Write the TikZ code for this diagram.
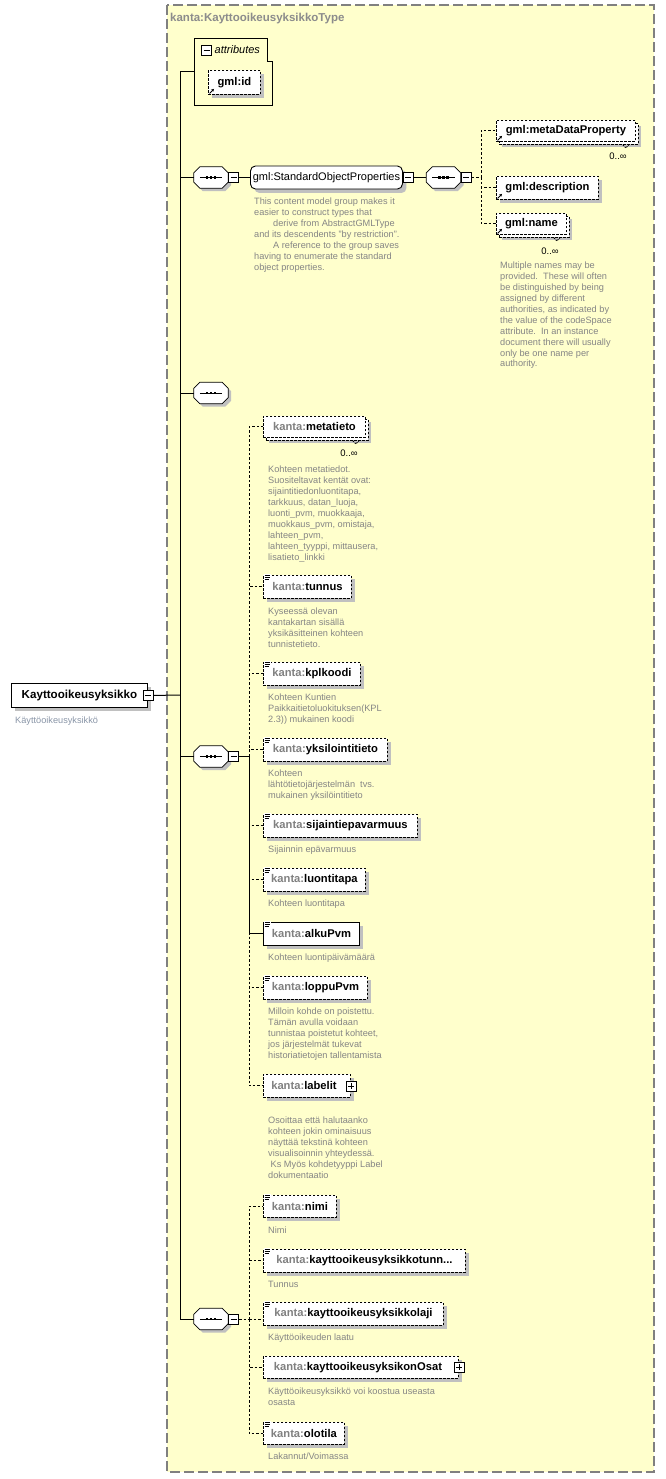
\documentclass[tikz,border=0pt]{standalone}
\usepackage{fontspec}
\setmainfont{Liberation Sans}
\usetikzlibrary{calc,shadows,arrows.meta}
\definecolor{typebg}{HTML}{FFFFCC}
\definecolor{typeline}{HTML}{808080}
\definecolor{shd}{HTML}{C0C0C0}
\definecolor{cmt}{HTML}{858585}
\definecolor{pfx}{HTML}{808080}
\definecolor{maincmt}{HTML}{8A96A8}
\definecolor{titlecol}{HTML}{8C8C8C}
\newcommand\kpfx[1]{{\color{pfx}#1}}
\tikzset{
  conn/.style={line width=1pt},
  dconn/.style={line width=1pt, dash pattern=on 2.5pt off 2pt},
  elbase/.style={rectangle, fill=white, line width=0.9pt, inner sep=0pt, anchor=north west,
    minimum height=23pt, font=\fontsize{11.2}{13}\selectfont\bfseries},
  reqel/.style={elbase, draw, drop shadow={shadow xshift=4pt,shadow yshift=-4pt,opacity=1,fill=shd}},
  optel/.style={elbase, draw, dash pattern=on 2.5pt off 1.5pt,
    drop shadow={shadow xshift=4pt,shadow yshift=-4pt,opacity=1,fill=shd}},
  multel/.style={elbase, draw, dash pattern=on 2.5pt off 1.5pt, minimum height=21pt,
    drop shadow={shadow xshift=6pt,shadow yshift=-6pt,opacity=1,fill=shd},
    preaction={draw, fill=white, line width=0.9pt, dash pattern=on 2.5pt off 1.5pt,
      transform canvas={shift={(3pt,-3pt)}}}},
  seqnode/.style={rectangle, draw=none, inner sep=0pt, minimum width=34pt, minimum height=21pt},
  minusbox/.style={rectangle, draw, fill=white, line width=0.8pt, minimum size=10pt, inner sep=0pt,
    path picture={\draw[line width=0.8pt] ([xshift=2pt]path picture bounding box.west) -- ([xshift=-2pt]path picture bounding box.east);}},
  plusbox/.style={minusbox,
    path picture={\draw[line width=0.8pt] ([xshift=2pt]path picture bounding box.west) -- ([xshift=-2pt]path picture bounding box.east)
      ([yshift=-2pt]path picture bounding box.north) -- ([yshift=2pt]path picture bounding box.south);}},
  cmtnode/.style={anchor=north west, inner sep=0pt, align=left, text=cmt,
    font=\fontsize{9.2}{10.9}\selectfont},
  occ/.style={inner sep=0pt, font=\fontsize{9.5}{11}\selectfont},
  notch/.style={line width=0.8pt, dash pattern=on 1.5pt off 1pt},
  eqicon/.pic={
    \fill[white] (0.5,-0.8) rectangle (7.8,5);
    \draw[line width=0.7pt] (1.5,0) -- (7,0) (1.5,2) -- (7,2) (1.5,4) -- (6,4);
  },
}
\newcommand\drawseq[1]{%
  \draw[fill=white, line width=0.8pt, drop shadow={shadow xshift=3pt,shadow yshift=-3pt,opacity=1,fill=shd}]
    ($(#1.north west)+(6,0)$) -- ($(#1.north east)+(-6,0)$) -- ($(#1.north east)+(0,6)$) --
    ($(#1.south east)+(0,-6)$) -- ($(#1.south east)+(-6,0)$) -- ($(#1.south west)+(6,0)$) --
    ($(#1.south west)+(0,-6)$) -- ($(#1.north west)+(0,6)$) -- cycle;
  \draw[line width=0.8pt] ($(#1.west)+(6,0)$) -- ($(#1.east)+(-6,0)$);
  \foreach \sdx in {-4,0,4} {\fill ($(#1.center)+(\sdx,0)+(-1.2,-1.2)$) rectangle ++(2.4,2.4);}
}
\newcommand\refarrow[1]{%
  \draw[line width=0.9pt, -{Stealth[length=2.8pt,width=3pt]}] ($(#1.south west)+(1.5,-1.5)$) -- ++(4.5,-4.5);}
% notch under a stacked element: #1 node, #2 x offset from its east side
\newcommand\drawnotch[2]{%
  \draw[notch] ($(#1.south east)+(#2-3,3)$) -- ++(3,3) -- ++(3,-3);}
\begin{document}
\begin{tikzpicture}[x=1pt,y=-1pt]
\useasboundingbox (0,0) rectangle (665,1479);
\fill[white] (0,0) rectangle (665,1479);
% complex type box
\draw[typeline, line width=1.2pt, dash pattern=on 10pt off 4pt, fill=typebg] (167,5) rectangle (654,1472);
\node[anchor=west, inner sep=0pt, text=titlecol, font=\fontsize{11.5}{13}\selectfont\bfseries] (title) at (170,18.5) {kanta:KayttooikeusyksikkoType};

% main element
\node[reqel, minimum width=136pt, minimum height=24pt, font=\fontsize{11.6}{13}\selectfont\bfseries] (kay) at (11,683) {Kayttooikeusyksikko};
\node[minusbox] (kaym) at (kay.east) {};
\node[cmtnode, text=maincmt] (kaycmt) at (15,717) {Käyttöoikeusyksikkö};

% attributes
\node[rectangle, draw=none, inner sep=0pt, minimum width=78pt, minimum height=67pt, anchor=north west] (attr) at (194,38.5) {};
\draw[line width=0.9pt] (attr.north west) -- ($(attr.north east)+(-5,0)$) -- ($(attr.north east)+(-5,22.5)$)
  -- ($(attr.north east)+(0,22.5)$) -- (attr.south east) -- (attr.south west) -- cycle;
\node[minusbox] (attrm) at (206.5,50.5) {};
\node[anchor=west, inner sep=0pt, font=\fontsize{11}{13}\selectfont\itshape] (attrlbl) at (214.5,50) {attributes};
\node[optel, minimum width=52pt, minimum height=24pt] (gid) at (208,70) {gml:id};
\refarrow{gid}

% sequence 1 + group
\node[seqnode] (seq1) at (211,177.5) {};
\drawseq{seq1}
\node[minusbox, anchor=west] (m1) at (seq1.east) {};
\node[reqel, rounded corners=5pt, anchor=west, minimum width=152pt, font=\fontsize{11}{13}\selectfont] (sop) at (250,177.5) {gml:StandardObjectProperties};
\node[minusbox, anchor=west] (m2) at (sop.east) {};
\node[seqnode] (seq2) at (443.5,177.5) {};
\drawseq{seq2}
\node[minusbox, anchor=west] (m3) at (seq2.east) {};
\coordinate (j2) at (481,177.5);
\node[cmtnode] (sopcmt) at (254,198) {This content model group makes it\\
easier to construct types that\\
\hspace*{19pt}derive from AbstractGMLType\\
and its descendents "by restriction".\\
\hspace*{19pt}A reference to the group saves\\
having to enumerate the standard\\
object properties.};

\node[multel, minimum width=139pt] (mdp) at (496,120) {gml:metaDataProperty};
\refarrow{mdp}
\drawnotch{mdp}{-10}
\node[occ] (mdpocc) at (618,156) {0..∞};
\node[optel, minimum width=102pt] (desc) at (496,176) {gml:description};
\refarrow{desc}
\node[multel, minimum width=70pt] (gname) at (496,213) {gml:name};
\refarrow{gname}
\drawnotch{gname}{-10}
\node[occ] (gnameocc) at (550,251) {0..∞};
\node[cmtnode] (gnamecmt) at (500,262) {Multiple names may be\\
provided.\ \ These will often\\
be distinguished by being\\
assigned by different\\
authorities, as indicated by\\
the value of the codeSpace\\
attribute.\ \ In an instance\\
document there will usually\\
only be one name per\\
authority.};

% sequence 3 (empty)
\node[seqnode] (seq3) at (211,393) {};
\drawseq{seq3}

% sequence 4
\node[seqnode] (seq4) at (211,756.5) {};
\drawseq{seq4}
\node[minusbox, anchor=west] (m4) at (seq4.east) {};
\coordinate (j4) at (249,756.5);

\node[multel, minimum width=102pt] (meta) at (263,416) {\kpfx{kanta:}metatieto};
\drawnotch{meta}{-10}
\node[occ] (metaocc) at (349,453) {0..∞};
\node[cmtnode] (metacmt) at (268,466) {Kohteen metatiedot.\\
Suositeltavat kentät ovat:\\
sijaintitiedonluontitapa,\\
tarkkuus, datan\_luoja,\\
luonti\_pvm, muokkaaja,\\
muokkaus\_pvm, omistaja,\\
lahteen\_pvm,\\
lahteen\_tyyppi, mittausera,\\
lisatieto\_linkki};

\node[optel, minimum width=88pt] (tunnus) at (263,575) {\kpfx{kanta:}tunnus};
\pic at (tunnus.north west) {eqicon};
\node[cmtnode] (tunnuscmt) at (268,608) {Kyseessä olevan\\
kantakartan sisällä\\
yksikäsitteinen kohteen\\
tunnistetieto.};

\node[optel, minimum width=97pt] (kpl) at (263,662) {\kpfx{kanta:}kplkoodi};
\pic at (kpl.north west) {eqicon};
\node[cmtnode] (kplcmt) at (268,694) {Kohteen Kuntien\\
Paikkaitietoluokituksen(KPL\\
2.3)) mukainen koodi};

\node[optel, minimum width=124pt] (yks) at (263,738) {\kpfx{kanta:}yksilointitieto};
\pic at (yks.north west) {eqicon};
\node[cmtnode] (ykscmt) at (268,770) {Kohteen\\
lähtötietojärjestelmän\ \ tvs.\\
mukainen yksilöintitieto};

\node[optel, minimum width=154pt] (sij) at (263,814) {\kpfx{kanta:}sijaintiepavarmuus};
\pic at (sij.north west) {eqicon};
\node[cmtnode] (sijcmt) at (268,846) {Sijainnin epävarmuus};

\node[optel, minimum width=102pt] (luo) at (263,868) {\kpfx{kanta:}luontitapa};
\pic at (luo.north west) {eqicon};
\node[cmtnode] (luocmt) at (268,900) {Kohteen luontitapa};

\node[reqel, minimum width=96pt] (alku) at (263,922) {\kpfx{kanta:}alkuPvm};
\pic at (alku.north west) {eqicon};
\node[cmtnode] (alkucmt) at (268,954) {Kohteen luontipäivämäärä};

\node[optel, minimum width=104pt] (loppu) at (263,976) {\kpfx{kanta:}loppuPvm};
\pic at (loppu.north west) {eqicon};
\node[cmtnode] (loppucmt) at (268,1008) {Milloin kohde on poistettu.\\
Tämän avulla voidaan\\
tunnistaa poistetut kohteet,\\
jos järjestelmät tukevat\\
historiatietojen tallentamista};

\node[optel, minimum width=87pt] (lab) at (263,1074) {\kpfx{kanta:}labelit\hspace*{6pt}};
\node[plusbox] (labp) at (lab.east) {};
\node[cmtnode] (labcmt) at (268,1117) {Osoittaa että halutaanko\\
kohteen jokin ominaisuus\\
näyttää tekstinä kohteen\\
visualisoinnin yhteydessä.\\
\hspace*{2.5pt}Ks Myös kohdetyyppi Label\\
dokumentaatio};

% sequence 5
\node[seqnode] (seq5) at (211,1319) {};
\drawseq{seq5}
\node[minusbox, anchor=west] (m5) at (seq5.east) {};
\coordinate (j5) at (249,1319);

\node[optel, minimum width=73pt, minimum height=22pt] (nimi) at (263,1195) {\kpfx{kanta:}nimi};
\pic at (nimi.north west) {eqicon};
\node[cmtnode] (nimicmt) at (268,1227) {Nimi};

\node[optel, minimum width=202pt] (ktun) at (263,1249) {\kpfx{kanta:}kayttooikeusyksikkotunn...};
\pic at (ktun.north west) {eqicon};
\node[cmtnode] (ktuncmt) at (268,1281) {Tunnus};

\node[optel, minimum width=180pt] (laji) at (263,1302) {\kpfx{kanta:}kayttooikeusyksikkolaji};
\pic at (laji.north west) {eqicon};
\node[cmtnode] (lajicmt) at (268,1334) {Käyttöoikeuden laatu};

\node[optel, minimum width=195pt, minimum height=22pt] (osat) at (263,1356) {\kpfx{kanta:}kayttooikeusyksikonOsat\hspace*{6pt}};
\node[plusbox] (osatp) at (osat.east) {};
\node[cmtnode] (osatcmt) at (268,1388) {Käyttöoikeusyksikkö voi koostua useasta\\
osasta};

\node[optel, minimum width=81pt, minimum height=22pt] (olo) at (263,1422) {\kpfx{kanta:}olotila};
\pic at (olo.north west) {eqicon};
\node[cmtnode] (olocmt) at (268,1453) {Lakannut/Voimassa};

% connectors
\coordinate (vtop) at (180,72);
\coordinate (vbot) at (180,1319);
\coordinate (vmain) at (180,695);
\draw[conn] (vtop) -- (vbot);
\draw[conn] (kaym.east) -- (vmain);
\draw[conn] (vtop) -- (vtop -| attr.west);
\draw[conn] (seq1.west -| vtop) -- (seq1.west);
\draw[conn] (m1.east) -- (sop.west);
\draw[conn] (m2.east) -- (seq2.west);
\draw[dconn] (m3.east) -- (j2);
\draw[dconn] (j2) |- (mdp.west);
\draw[dconn] (j2) |- (desc.west);
\draw[dconn] (j2) |- (gname.west);
\draw[conn] (seq3.west -| vtop) -- (seq3.west);
\draw[conn] (seq4.west -| vtop) -- (seq4.west);
\draw[conn] (m4.east) -- (j4);
\draw[dconn] (j4) |- (meta.west);
\draw[dconn] (j4) |- (tunnus.west);
\draw[dconn] (j4) |- (kpl.west);
\draw[dconn] (j4) |- (yks.west);
\draw[dconn] (j4) |- (sij.west);
\draw[dconn] (j4) |- (luo.west);
\draw[dconn] (j4) |- (loppu.west);
\draw[dconn] (j4) |- (lab.west);
\draw[conn] (j4) |- (alku.west);
\draw[conn] (seq5.west -| vtop) -- (seq5.west);
\draw[dconn] (m5.east) -- (j5);
\draw[dconn] (j5) |- (nimi.west);
\draw[dconn] (j5) |- (ktun.west);
\draw[dconn] (j5) -- (j5 -| laji.west);
\draw[dconn] (j5) |- (osat.west);
\draw[dconn] (j5) |- (olo.west);
\end{tikzpicture}
\end{document}
